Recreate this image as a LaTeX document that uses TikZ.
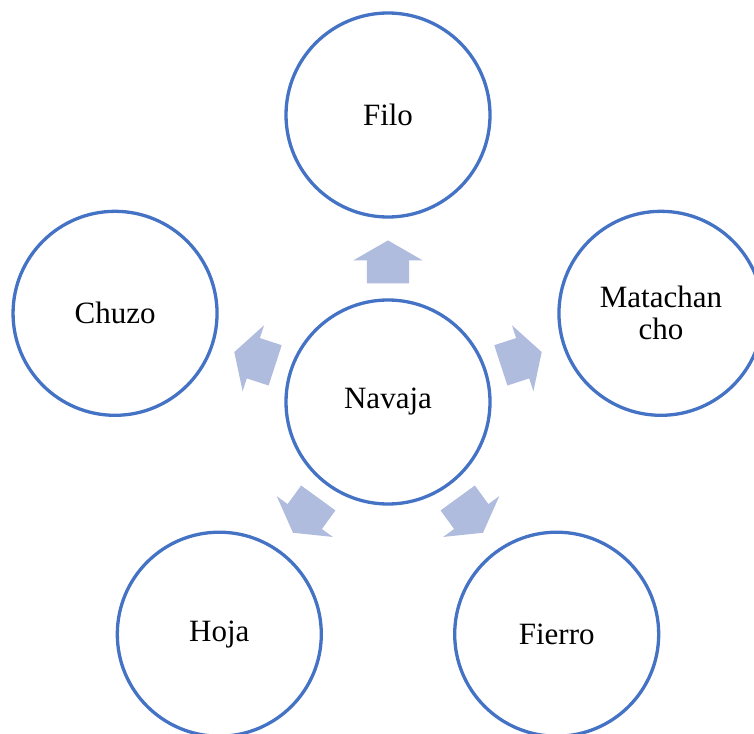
\documentclass[tikz,border=0pt]{standalone}
\usepackage{fontspec}
\setmainfont{Liberation Serif}
\usetikzlibrary{shapes.arrows,calc}

\definecolor{ringblue}{RGB}{68,114,196}
\definecolor{arrowblue}{RGB}{175,188,222}

\begin{document}
\begin{tikzpicture}[x=1pt, y=-1pt,
  every node/.style = {font=\fontsize{31}{32}\selectfont, align=center},
  ring/.style = {shape=circle, draw=ringblue, line width=3.3pt,
    minimum size=204pt, inner sep=0pt},
  pointer/.style = {shape=single arrow, fill=arrowblue, draw=none,
    text width=0pt, text height=21pt, text depth=21pt,
    minimum height=43pt, minimum width=69pt, inner sep=0pt,
    single arrow head extend=13.5pt, single arrow tip angle=120}]
  \useasboundingbox (0,0) rectangle (754,733);
  \node[ring] (navaja) at (388,402) {Navaja};
  \node[ring] (filo) at ($(navaja)+(90:287pt)$) {Filo};
  \node[ring] (matachancho) at ($(navaja)+(18:287pt)$) {Matachan\\cho};
  \node[ring] (fierro) at ($(navaja)+(-54:287pt)$) {Fierro};
  \node[ring] (hoja) at ($(navaja)+(-126:287pt)$) {Hoja};
  \node[ring] (chuzo) at ($(navaja)+(162:287pt)$) {Chuzo};
  \node[pointer, rotate=90] (tofilo) at ($(navaja)!134pt!(filo)$) {};
  \node[pointer, rotate=18] (tomatachancho) at ($(navaja)!134pt!(matachancho)$) {};
  \node[pointer, rotate=-54] (tofierro) at ($(navaja)!134pt!(fierro)$) {};
  \node[pointer, rotate=-126] (tohoja) at ($(navaja)!134pt!(hoja)$) {};
  \node[pointer, rotate=162] (tochuzo) at ($(navaja)!134pt!(chuzo)$) {};
\end{tikzpicture}
\end{document}
